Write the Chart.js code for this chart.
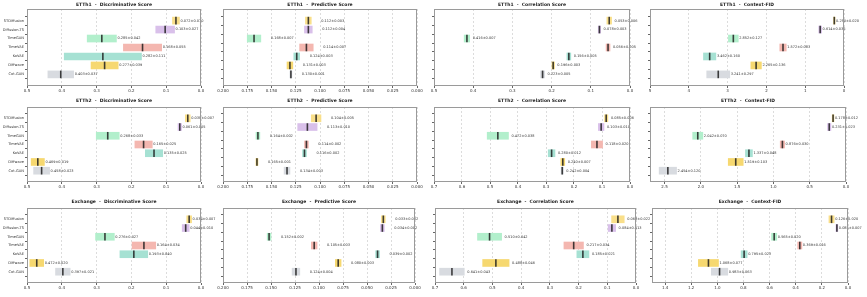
<!DOCTYPE html>
<html>
<head>
<meta charset="utf-8">
<script src="https://cdn.jsdelivr.net/npm/chart.js@4.4.1/dist/chart.umd.min.js"></script>
<style>
  html, body { margin: 0; padding: 0; background: #fff; }
  #wrap { position: relative; width: 867px; height: 297px; overflow: hidden; background: #fff; }
  #wrap canvas { position: absolute; }
</style>
</head>
<body>
<div id="wrap"></div>
<script>
// models (top to bottom) and their colours
const models = ['STDiffusion', 'Diffusion-TS', 'TimeGAN', 'TimeVAE', 'KoVAE', 'Diffwave', 'Cot-GAN'];
const modelColors = ['#f9df8a', '#d9c0ea', '#b2efcc', '#f4b7b0', '#a6e1d3', '#f6d870', '#d8dbe0'];

// ETTh1
const etth1DiscMean = [0.072, 0.103, 0.285, 0.168, 0.282, 0.277, 0.403];
const etth1DiscStd  = [0.010, 0.027, 0.042, 0.055, 0.111, 0.039, 0.037];
const etth1PredMean = [0.112, 0.112, 0.168, 0.114, 0.124, 0.131, 0.130];
const etth1PredStd  = [0.003, 0.004, 0.007, 0.007, 0.003, 0.003, 0.001];
const etth1CorrMean = [0.053, 0.078, 0.416, 0.056, 0.156, 0.196, 0.223];
const etth1CorrStd  = [0.006, 0.003, 0.007, 0.005, 0.005, 0.003, 0.005];
const etth1FidMean  = [0.250, 0.614, 2.852, 1.572, 3.462, 2.265, 3.241];
const etth1FidStd   = [0.020, 0.036, 0.127, 0.083, 0.160, 0.136, 0.297];

// ETTh2
const etth2DiscMean = [0.038, 0.061, 0.268, 0.165, 0.135, 0.469, 0.458];
const etth2DiscStd  = [0.007, 0.005, 0.033, 0.025, 0.025, 0.019, 0.023];
const etth2PredMean = [0.104, 0.113, 0.164, 0.114, 0.116, 0.165, 0.134];
const etth2PredStd  = [0.005, 0.010, 0.002, 0.002, 0.002, 0.001, 0.003];
const etth2CorrMean = [0.085, 0.103, 0.472, 0.118, 0.280, 0.240, 0.242];
const etth2CorrStd  = [0.006, 0.010, 0.038, 0.020, 0.012, 0.007, 0.004];
const etth2FidMean  = [0.178, 0.231, 2.042, 0.876, 1.337, 1.519, 2.454];
const etth2FidStd   = [0.012, 0.023, 0.070, 0.030, 0.048, 0.103, 0.120];

// Exchange
const exchDiscMean = [0.034, 0.044, 0.276, 0.164, 0.193, 0.472, 0.397];
const exchDiscStd  = [0.007, 0.010, 0.027, 0.034, 0.040, 0.020, 0.021];
const exchPredMean = [0.033, 0.034, 0.152, 0.105, 0.039, 0.080, 0.124];
const exchPredStd  = [0.002, 0.002, 0.002, 0.003, 0.002, 0.003, 0.004];
const exchCorrMean = [0.063, 0.084, 0.510, 0.217, 0.185, 0.488, 0.641];
const exchCorrStd  = [0.022, 0.013, 0.042, 0.034, 0.021, 0.046, 0.043];
const exchFidMean  = [0.126, 0.085, 0.565, 0.369, 0.795, 1.068, 0.983];
const exchFidStd   = [0.020, 0.007, 0.020, 0.016, 0.023, 0.077, 0.063];

// x tick values
const ticksDisc  = [0.5, 0.4, 0.3, 0.2, 0.1, 0.0];
const ticksPred  = [0.200, 0.175, 0.150, 0.125, 0.100, 0.075, 0.050, 0.025, 0.000];
const ticksCorr5 = [0.5, 0.4, 0.3, 0.2, 0.1, 0.0];
const ticksCorr7 = [0.7, 0.6, 0.5, 0.4, 0.3, 0.2, 0.1, 0.0];
const ticksFid1  = [5, 4, 3, 2, 1, 0];
const ticksFid2  = [2.5, 2.0, 1.5, 1.0, 0.5, 0.0];
const ticksFid3  = [1.4, 1.2, 1.0, 0.8, 0.6, 0.4, 0.2, 0.0];

// plot area edges (px), per row because the rows were laid out separately
const colL = [[27, 223, 434, 650], [27, 223, 434, 650], [27, 223, 435, 652]];
const colR = [[201, 417, 630, 844], [201, 417, 630, 846], [201, 415, 636, 848]];
const rowT = [9, 107, 208];
const rowB = [86, 182, 283];
const titleGap = [4.5, 6, 6];
const labelGap = [1, 10, 3, 1];

const panels = [
  { row: 0, col: 0, title: 'ETTh1  -  Discriminative Score', mean: etth1DiscMean, std: etth1DiscStd, xmax: 0.5, ticks: ticksDisc, dec: 1 },
  { row: 0, col: 1, title: 'ETTh1  -  Predictive Score', mean: etth1PredMean, std: etth1PredStd, xmax: 0.2, ticks: ticksPred, dec: 3 },
  { row: 0, col: 2, title: 'ETTh1  -  Correlation Score', mean: etth1CorrMean, std: etth1CorrStd, xmax: 0.5, ticks: ticksCorr5, dec: 1 },
  { row: 0, col: 3, title: 'ETTh1  -  Context-FID', mean: etth1FidMean, std: etth1FidStd, xmax: 5, ticks: ticksFid1, dec: 0 },
  { row: 1, col: 0, title: 'ETTh2  -  Discriminative Score', mean: etth2DiscMean, std: etth2DiscStd, xmax: 0.5, ticks: ticksDisc, dec: 1 },
  { row: 1, col: 1, title: 'ETTh2  -  Predictive Score', mean: etth2PredMean, std: etth2PredStd, xmax: 0.2, ticks: ticksPred, dec: 3 },
  { row: 1, col: 2, title: 'ETTh2  -  Correlation Score', mean: etth2CorrMean, std: etth2CorrStd, xmax: 0.7, ticks: ticksCorr7, dec: 1 },
  { row: 1, col: 3, title: 'ETTh2  -  Context-FID', mean: etth2FidMean, std: etth2FidStd, xmax: 2.7, ticks: ticksFid2, dec: 1 },
  { row: 2, col: 0, title: 'Exchange  -  Discriminative Score', mean: exchDiscMean, std: exchDiscStd, xmax: 0.5, ticks: ticksDisc, dec: 1 },
  { row: 2, col: 1, title: 'Exchange  -  Predictive Score', mean: exchPredMean, std: exchPredStd, xmax: 0.2, ticks: ticksPred, dec: 3 },
  { row: 2, col: 2, title: 'Exchange  -  Correlation Score', mean: exchCorrMean, std: exchCorrStd, xmax: 0.7, ticks: ticksCorr7, dec: 1 },
  { row: 2, col: 3, title: 'Exchange  -  Context-FID', mean: exchFidMean, std: exchFidStd, xmax: 1.5, ticks: ticksFid3, dec: 1 }
];

// frame, title and value labels
const panelDeco = {
  id: 'panelDeco',
  afterDatasetsDraw(chart, args, opts) {
    const { ctx, scales } = chart;
    const p = opts.panel;
    ctx.save();
    ctx.font = '3.5px "DejaVu Sans"';
    ctx.fillStyle = '#333';
    ctx.textAlign = 'left';
    ctx.textBaseline = 'middle';
    p.mean.forEach((m, i) => {
      const s = p.std[i];
      const x = scales.x.getPixelForValue(m - s) + labelGap[p.col];
      const y = scales.y.getPixelForValue(i);
      ctx.fillText(m.toFixed(3) + '±' + s.toFixed(3), x, y);
    });
    ctx.restore();
  },
  afterDraw(chart, args, opts) {
    const { ctx, chartArea: a } = chart;
    const p = opts.panel;
    ctx.save();
    ctx.strokeStyle = '#9a9a9a';
    ctx.lineWidth = 1;
    ctx.strokeRect(Math.round(a.left) + 0.5, Math.round(a.top) + 0.5, Math.round(a.width) - 1, Math.round(a.height) - 1);
    ctx.font = 'bold 4.5px "DejaVu Sans"';
    ctx.fillStyle = '#222';
    ctx.textAlign = 'center';
    ctx.textBaseline = 'middle';
    ctx.fillText(p.title, (a.left + a.right) / 2, a.top - titleGap[p.row]);
    ctx.restore();
  }
};

const wrap = document.getElementById('wrap');

panels.forEach(p => {
  const L = colL[p.row][p.col], R = colR[p.row][p.col], T = rowT[p.row], B = rowB[p.row];
  const padL = p.col === 0 ? 27 : 14;
  const padT = 9, padB = 11, padR = 24;

  const canvas = document.createElement('canvas');
  canvas.width = R - L + padL + padR;
  canvas.height = B - T + padT + padB;
  canvas.style.left = (L - padL) + 'px';
  canvas.style.top = (T - padT) + 'px';
  canvas.style.width = canvas.width + 'px';
  canvas.style.height = canvas.height + 'px';
  wrap.appendChild(canvas);

  new Chart(canvas, {
    type: 'bar',
    data: {
      datasets: [
        {
          type: 'bar',
          indexAxis: 'y',
          order: 1,
          data: models.map((m, i) => ({ x: [p.mean[i] - p.std[i], p.mean[i] + p.std[i]], y: i })),
          backgroundColor: modelColors,
          borderWidth: 0,
          barThickness: 7
        },
        {
          type: 'scatter',
          order: 0,
          data: models.map((m, i) => ({ x: p.mean[i], y: i })),
          pointStyle: 'line',
          pointRotation: 90,
          pointRadius: 3.8,
          pointBorderWidth: 1.6,
          pointBorderColor: 'rgba(30,30,30,0.85)',
          pointBackgroundColor: 'rgba(30,30,30,0.85)'
        }
      ]
    },
    options: {
      indexAxis: 'y',
      responsive: false,
      animation: false,
      events: [],
      layout: { padding: { left: 0, right: padR, top: padT, bottom: 0 } },
      plugins: {
        legend: { display: false },
        tooltip: { enabled: false },
        title: { display: false },
        panelDeco: { panel: p }
      },
      scales: {
        x: {
          type: 'linear',
          reverse: true,
          min: 0,
          max: p.xmax,
          afterBuildTicks: s => { s.ticks = p.ticks.map(v => ({ value: v })); },
          afterFit: s => { s.height = padB; },
          ticks: {
            callback: v => v.toFixed(p.dec),
            font: { family: 'DejaVu Sans', size: 4 },
            color: '#333',
            padding: 1,
            maxRotation: 0,
            autoSkip: false
          },
          grid: { color: '#dcdcdc', tickLength: 2, tickColor: '#666', tickBorderDash: [] },
          border: { display: false, dash: [2, 2] }
        },
        y: {
          type: 'linear',
          reverse: true,
          min: -0.68,
          max: 6.68,
          afterBuildTicks: s => { s.ticks = models.map((m, i) => ({ value: i })); },
          afterFit: s => { s.width = padL; },
          ticks: {
            display: p.col === 0,
            callback: v => models[v],
            font: { family: 'DejaVu Sans', size: 3.6 },
            color: '#333',
            padding: 1,
            autoSkip: false
          },
          grid: { drawOnChartArea: false, tickLength: 2, tickColor: '#666' },
          border: { display: false }
        }
      }
    },
    plugins: [panelDeco]
  });
});
</script>
</body>
</html>
